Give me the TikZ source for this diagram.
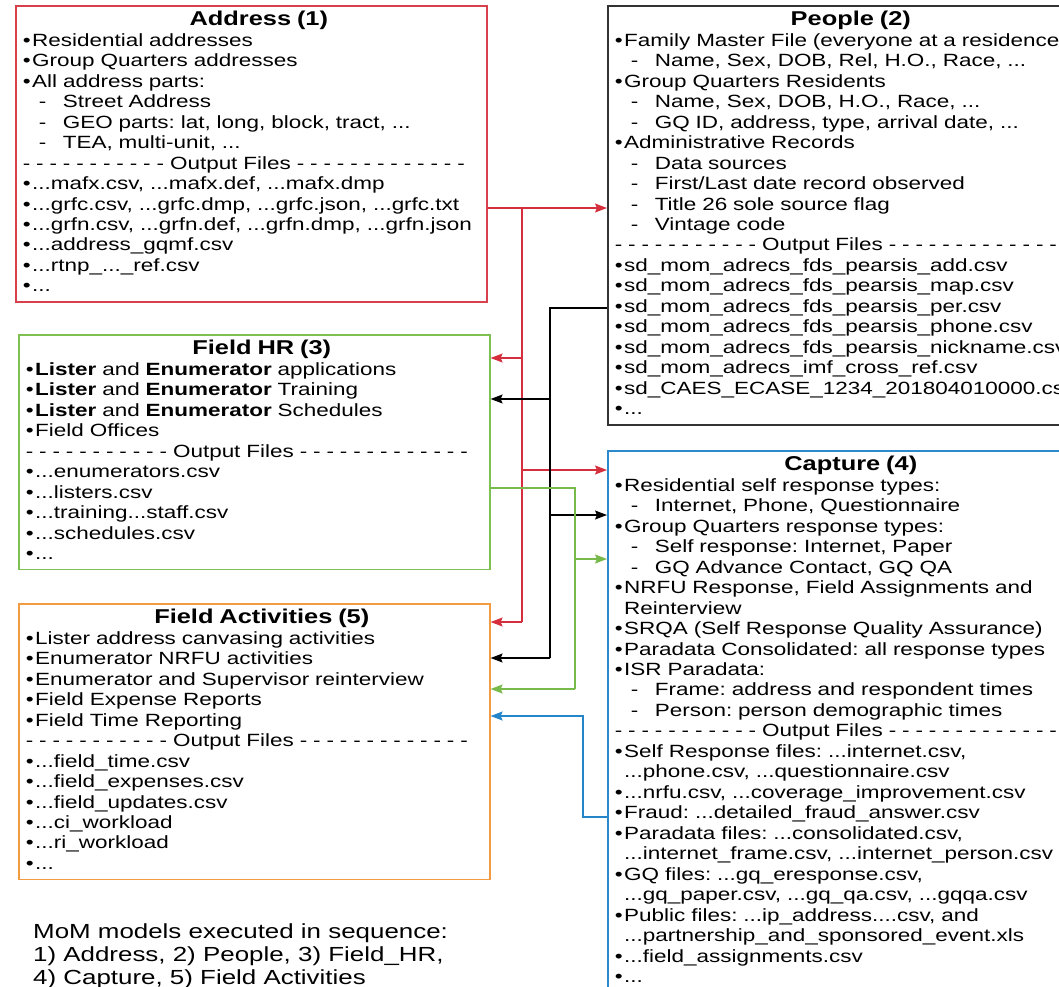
\documentclass[tikz,border=0pt]{standalone}
\usepackage{fontspec}
\setmainfont[FakeStretch=1.27]{Liberation Sans}
\usetikzlibrary{arrows.meta}
\definecolor{addrred}{HTML}{D8404C}
\definecolor{pplgray}{HTML}{333333}
\definecolor{hrgreen}{HTML}{7EC152}
\definecolor{actorange}{HTML}{F39B42}
\definecolor{capblue}{HTML}{2B8ACB}
\definecolor{arred}{HTML}{D52F3D}
\definecolor{argreen}{HTML}{78BA4A}
\definecolor{arblue}{HTML}{2486C8}
\frenchspacing
\newcommand\btitle[1]{\noindent\makebox[\hsize]{\hspace{15pt}\rule{0pt}{20pt}\fontsize{20pt}{23pt}\selectfont\bfseries #1}\par}
\newcommand\itm[1]{\par\noindent\mbox{\textbullet\hspace{1.5pt}#1}}
\newcommand\subitm[1]{\par\noindent\mbox{\makebox[40pt][l]{\hspace*{16pt}-}#1}}
\newcommand\cont[1]{\par\noindent\mbox{\phantom{\textbullet}\hspace{1.5pt}#1}}
\newcommand\outsep{\par\noindent\mbox{- - - - - - - - - - - Output Files - - - - - - - - - - - - -}}
\newcommand\lastline{\rule[-10pt]{0pt}{10pt}}
\tikzset{
  box/.style={draw,line width=1.6pt,anchor=north west,text width=457pt,inner xsep=7pt,
    inner ysep=0pt,align=left,font=\fontsize{17.7pt}{20.47pt}\selectfont},
  tip/.style={-{Stealth[length=12pt,width=9pt,inset=2pt]}},
  redln/.style={line width=1.3pt,arred},
  redar/.style={redln,tip},
  blkln/.style={line width=1.3pt,black},
  blkar/.style={blkln,tip},
  grnln/.style={line width=1.3pt,argreen},
  grnar/.style={grnln,tip},
  bluar/.style={line width=1.3pt,arblue,tip},
  note/.style={anchor=north west,inner sep=0pt,align=left,font=\fontsize{20.4pt}{23.4pt}\selectfont}
}

\begin{document}
\begin{tikzpicture}[x=1pt,y=-1pt]
\useasboundingbox (0,0) rectangle (1059,986);
\clip (0,0) rectangle (1059,986);
\fill[white] (0,0) rectangle (1059,986);

\node[box,draw=addrred] (addr) at (15,5) {\btitle{Address (1)}
\itm{Residential addresses}
\itm{Group Quarters addresses}
\itm{All address parts:}
\subitm{Street Address}
\subitm{GEO parts: lat, long, block, tract, ...}
\subitm{TEA, multi-unit, ...}
\outsep
\itm{...mafx.csv, ...mafx.def, ...mafx.dmp}
\itm{...grfc.csv, ...grfc.dmp, ...grfc.json, ...grfc.txt}
\itm{...grfn.csv, ...grfn.def, ...grfn.dmp, ...grfn.json}
\itm{...address\_gqmf.csv}
\itm{...rtnp\_...\_ref.csv}
\itm{...}\lastline};

\node[box,draw=pplgray] (ppl) at (607,5) {\btitle{People (2)}
\itm{Family Master File (everyone at a residence)}
\subitm{Name, Sex, DOB, Rel, H.O., Race, ...}
\itm{Group Quarters Residents}
\subitm{Name, Sex, DOB, H.O., Race, ...}
\subitm{GQ ID, address, type, arrival date, ...}
\itm{Administrative Records}
\subitm{Data sources}
\subitm{First/Last date record observed}
\subitm{Title 26 sole source flag}
\subitm{Vintage code}
\outsep
\itm{sd\_mom\_adrecs\_fds\_pearsis\_add.csv}
\itm{sd\_mom\_adrecs\_fds\_pearsis\_map.csv}
\itm{sd\_mom\_adrecs\_fds\_pearsis\_per.csv}
\itm{sd\_mom\_adrecs\_fds\_pearsis\_phone.csv}
\itm{sd\_mom\_adrecs\_fds\_pearsis\_nickname.csv}
\itm{sd\_mom\_adrecs\_imf\_cross\_ref.csv}
\itm{sd\_CAES\_ECASE\_1234\_201804010000.csv}
\itm{...}\lastline};

\node[box,draw=hrgreen] (fhr) at (18,334) {\btitle{Field HR (3)}
\itm{\textbf{Lister} and \textbf{Enumerator} applications}
\itm{\textbf{Lister} and \textbf{Enumerator} Training}
\itm{\textbf{Lister} and \textbf{Enumerator} Schedules}
\itm{Field Offices}
\outsep
\itm{...enumerators.csv}
\itm{...listers.csv}
\itm{...training...staff.csv}
\itm{...schedules.csv}
\itm{...}\lastline};

\node[box,draw=actorange] (fa) at (18,603) {\btitle{Field Activities (5)}
\itm{Lister address canvasing activities}
\itm{Enumerator NRFU activities}
\itm{Enumerator and Supervisor reinterview}
\itm{Field Expense Reports}
\itm{Field Time Reporting}
\outsep
\itm{...field\_time.csv}
\itm{...field\_expenses.csv}
\itm{...field\_updates.csv}
\itm{...ci\_workload}
\itm{...ri\_workload}
\itm{...}\lastline};

\node[box,draw=capblue] (cap) at (607,450) {\btitle{Capture (4)}
\itm{Residential self response types:}
\subitm{Internet, Phone, Questionnaire}
\itm{Group Quarters response types:}
\subitm{Self response: Internet, Paper}
\subitm{GQ Advance Contact, GQ QA}
\itm{NRFU Response, Field Assignments and}
\cont{Reinterview}
\itm{SRQA (Self Response Quality Assurance)}
\itm{Paradata Consolidated: all response types}
\itm{ISR Paradata:}
\subitm{Frame: address and respondent times}
\subitm{Person: person demographic times}
\outsep
\itm{Self Response files: ...internet.csv,}
\cont{...phone.csv, ...questionnaire.csv}
\itm{...nrfu.csv, ...coverage\_improvement.csv}
\itm{Fraud: ...detailed\_fraud\_answer.csv}
\itm{Paradata files: ...consolidated.csv,}
\cont{...internet\_frame.csv, ...internet\_person.csv}
\itm{GQ files: ...gq\_eresponse.csv,}
\cont{...gq\_paper.csv, ...gq\_qa.csv, ...gqqa.csv}
\itm{Public files: ...ip\_address....csv, and}
\cont{...partnership\_and\_sponsored\_event.xls}
\itm{...field\_assignments.csv}
\itm{...}\lastline};

\node[note] (seq) at (33,923) {MoM models executed in sequence:\\1) Address, 2) People, 3) Field\_HR,\\4) Capture, 5) Field Activities};

\coordinate (rA) at (522,208);
\coordinate (rB) at (522,358);
\coordinate (rC) at (522,470);
\coordinate (rD) at (522,622);
\coordinate (kA) at (550,308);
\coordinate (kB) at (550,399);
\coordinate (kC) at (550,515);
\coordinate (kD) at (550,658);
\coordinate (gA) at (575,488);
\coordinate (gB) at (575,559);
\coordinate (gC) at (575,689);
\coordinate (bA) at (583,817);
\coordinate (bB) at (583,716);

\draw[redln] (addr.east |- rA) -- (rA) -- (rD);
\draw[redar] (rA) -- (ppl.west |- rA);
\draw[redar] (rB) -- (fhr.east |- rB);
\draw[redar] (rC) -- (cap.west |- rC);
\draw[redar] (rD) -- (fa.east |- rD);

\draw[blkln] (ppl.west |- kA) -- (kA) -- (kD);
\draw[blkar] (kB) -- (fhr.east |- kB);
\draw[blkar] (kC) -- (cap.west |- kC);
\draw[blkar] (kD) -- (fa.east |- kD);

\draw[grnln] (fhr.east |- gA) -- (gA) -- (gC);
\draw[grnar] (gB) -- (cap.west |- gB);
\draw[grnar] (gC) -- (fa.east |- gC);

\draw[bluar] (cap.west |- bA) -- (bA) -- (bB) -- (fa.east |- bB);
\end{tikzpicture}
\end{document}
